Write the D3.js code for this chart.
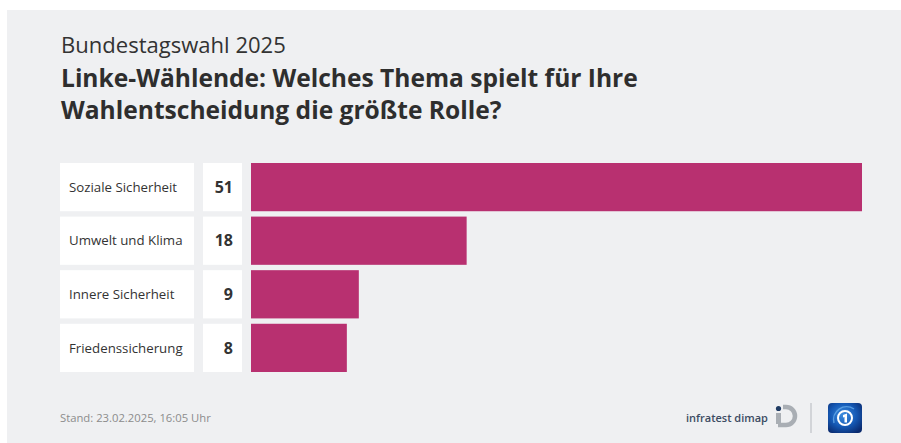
<!DOCTYPE html>
<html lang="de">
<head>
<meta charset="utf-8">
<script src="https://cdn.jsdelivr.net/npm/d3@7"></script>
<style>
  html, body { margin: 0; padding: 0; background: #ffffff; }
  svg { display: block; font-family: "Open Sans", "Noto Sans", sans-serif; }
</style>
</head>
<body>
<svg id="chart" width="901" height="443"></svg>
<script>
// Umfragewerte (Prozent)
const categories = ["Soziale Sicherheit", "Umwelt und Klima", "Innere Sicherheit", "Friedenssicherung"];
const values = [51, 18, 9, 8];

const kicker = "Bundestagswahl 2025";
const titleLines = [
  "Linke-Wählende: Welches Thema spielt für Ihre",
  "Wahlentscheidung die größte Rolle?"
];
const footnote = "Stand:  23.02.2025, 16:05 Uhr";
const sourceName = "infratest dimap";

const W = 901, H = 443;
const svg = d3.select("#chart");

// Hintergrundfläche
svg.append("rect").attr("x", 7).attr("y", 10).attr("width", W - 7).attr("height", H - 10)
  .attr("fill", "#eff0f2");

// Schriftgröße so wählen, dass der Text eine Zielbreite erreicht
function fitText(sel, target) {
  const base = parseFloat(sel.attr("font-size"));
  const w = sel.node().getComputedTextLength();
  const size = base * target / w;
  sel.attr("font-size", size.toFixed(2));
  return size;
}

const sub = svg.append("text").attr("x", 61).attr("y", 53)
  .attr("font-size", 19).attr("fill", "#333").text(kicker);
fitText(sub, 225);

const t1 = svg.append("text").attr("x", 61).attr("y", 87)
  .attr("font-size", 21).attr("font-weight", 700).attr("fill", "#2e2e2e").text(titleLines[0]);
const ts = fitText(t1, 577);
svg.append("text").attr("x", 61).attr("y", 119)
  .attr("font-size", ts.toFixed(2)).attr("font-weight", 700).attr("fill", "#2e2e2e").text(titleLines[1]);

// Skalen
const y = d3.scaleBand().domain(categories).range([163, 372]).paddingInner(0.1).paddingOuter(0);
const x = d3.scaleLinear().domain([0, 51]).range([251, 862]);

const rows = svg.append("g").selectAll("g").data(categories).join("g")
  .attr("transform", d => `translate(0,${y(d)})`);

// Kategorie-Kästen
rows.append("rect").attr("x", 60).attr("width", 134).attr("height", y.bandwidth()).attr("fill", "#ffffff");
const labels = rows.append("text").attr("x", 69).attr("y", y.bandwidth() / 2).attr("dy", "0.35em")
  .attr("font-size", 12.4).attr("font-weight", 500).attr("fill", "#333").text(d => d);
const ls = fitText(labels.filter((d, i) => i === 0), 108);
labels.attr("font-size", ls.toFixed(2));

// Wert-Kästen
rows.append("rect").attr("x", 203).attr("width", 39).attr("height", y.bandwidth()).attr("fill", "#ffffff");
rows.append("text").attr("x", 233).attr("y", y.bandwidth() / 2).attr("dy", "0.36em")
  .attr("text-anchor", "end").attr("font-size", 16).attr("font-weight", 700).attr("fill", "#333")
  .text((d, i) => values[i]);

// Balken
rows.append("rect").attr("x", x(0)).attr("height", y.bandwidth())
  .attr("width", (d, i) => x(values[i]) - x(0)).attr("fill", "#b83070");

// Fußzeile
const fn = svg.append("text").attr("x", 60).attr("y", 422).attr("font-size", 10.5)
  .attr("font-weight", 500).attr("fill", "#8c8c8c").text(footnote);
fitText(fn, 151);

const src = svg.append("text").attr("x", 686).attr("y", 422).attr("font-size", 12)
  .attr("font-weight", 600).attr("fill", "#3b4b62").text(sourceName);
fitText(src, 82);

// Logo infratest dimap
const lg = svg.append("g").attr("transform", "translate(776,406)");
lg.append("circle").attr("cx", 2.5).attr("cy", 2.5).attr("r", 2.6).attr("fill", "#1f3b63");
lg.append("rect").attr("x", 0).attr("y", 7).attr("width", 5).attr("height", 11).attr("fill", "#a9aeb4");
lg.append("path")
  .attr("d", "M7,1 L10,1 A9,9 0 0 1 10,19 L2,19")
  .attr("fill", "none").attr("stroke", "#a9aeb4").attr("stroke-width", 4.5);

// Trennlinie
svg.append("line").attr("x1", 811).attr("x2", 811).attr("y1", 403).attr("y2", 433)
  .attr("stroke", "#c8cbcf").attr("stroke-width", 1.5);

// Logo tagesschau
const defs = svg.append("defs");
const grad = defs.append("radialGradient").attr("id", "tsg").attr("cx", "45%").attr("cy", "40%").attr("r", "70%");
grad.append("stop").attr("offset", "0%").attr("stop-color", "#3d8ee0");
grad.append("stop").attr("offset", "55%").attr("stop-color", "#1559b5");
grad.append("stop").attr("offset", "100%").attr("stop-color", "#0a2a6e");
const tg = svg.append("g").attr("transform", "translate(828,403)");
tg.append("rect").attr("width", 34).attr("height", 30).attr("rx", 4).attr("fill", "url(#tsg)");
tg.append("path").attr("d", "M6,20 A13,13 0 0 1 26,6").attr("fill", "none")
  .attr("stroke", "#6fb4f0").attr("stroke-width", 1.5).attr("opacity", 0.7);
tg.append("circle").attr("cx", 17).attr("cy", 15).attr("r", 7).attr("fill", "none")
  .attr("stroke", "#ffffff").attr("stroke-width", 2);
tg.append("path").attr("d", "M15,12 L19,10.5 L19,19.5 L16.5,19.5 L16.5,14 L15,14.5 Z").attr("fill", "#ffffff");
</script>
</body>
</html>
